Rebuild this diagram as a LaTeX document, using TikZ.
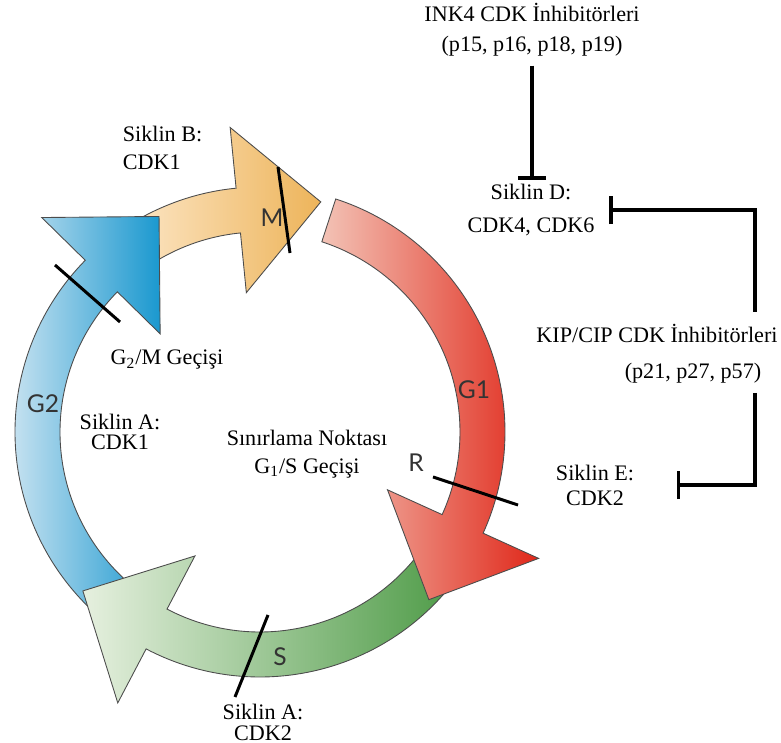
\documentclass[tikz,border=0pt]{standalone}
\usepackage{fontspec}
\setmainfont{Liberation Serif}
\newfontfamily\phasefont{Lato}
\usetikzlibrary{arrows.meta}

\definecolor{orangeL}{HTML}{FDE8CA}
\definecolor{orangeD}{HTML}{EDB45A}
\definecolor{blueL}{HTML}{C9E3F1}
\definecolor{blueD}{HTML}{1A98CF}
\definecolor{greenL}{HTML}{E6F0DF}
\definecolor{greenD}{HTML}{4C9A45}
\definecolor{redL}{HTML}{F3C3B6}
\definecolor{redD}{HTML}{E0281A}

% phase arrow: #1 style, #2 start angle, #3 end angle (clockwise)
\newcommand{\phasearrow}[3]{%
  \draw[#1] (#2:245) arc[start angle=#2, end angle=#3, radius=245]
    -- (#3:306) -- ({#3-20.4}:238) -- (#3:140) -- (#3:200)
    arc[start angle=#3, end angle=#2, radius=200] -- cycle;}

\begin{document}
\begin{tikzpicture}[x=0.02cm, y=0.02cm,
    lbl/.style={font=\fontsize{12.6}{#1}\selectfont, align=center, inner sep=2pt},
    lbl/.default=16pt,
    phase/.style={font=\phasefont\fontsize{14}{16}\selectfont, text=black!80},
    cut/.style={line width=1.7pt},
    inhib/.style={line width=2.2pt, -{Bar[width=16pt]}},
    ring/.style={draw=black!70, line width=0.5pt}]
  \useasboundingbox (0,0) rectangle (781,743);

  % cell cycle ring
  \begin{scope}[shift={(260,311)}]
    \phasearrow{ring, left color=orangeL, right color=orangeD}{125}{95.6}
    \phasearrow{ring, left color=blueL, right color=blueD}{236}{135.5}
    \phasearrow{ring, left color=greenL, right color=greenD}{-35}{-117.7}
    \phasearrow{ring, left color=redL, right color=redD}{72}{-24.4}
  \end{scope}

  % checkpoints
  \draw[cut] (278,576) -- (290,490);
  \draw[cut] (55,478) -- (120,421);
  \draw[cut] (433,266) -- (518,238);
  \draw[cut] (268,128) -- (235,46);

  \node[phase] (m) at (272,525) {M};
  \node[phase] (g1) at (474,353) {G1};
  \node[phase] (g2) at (43,339) {G2};
  \node[phase] (s) at (280,86) {S};
  \node[phase] (r) at (416,280) {R};

  \node[lbl=15.9pt, align=left, anchor=west] (sikB) at (119,595) {Siklin B:\\CDK1};
  \node[lbl] (g2m) at (167,383) {G\textsubscript{2}/M Geçişi};
  \node[lbl=11.5pt] (sikA1) at (120,311) {Siklin A:\\CDK1};
  \node[lbl=15.9pt] (sinir) at (307,289) {Sınırlama Noktası\\G\textsubscript{1}/S Geçişi};
  \node[lbl=12pt] (sikA2) at (263,21) {Siklin A:\\CDK2};

  % inhibitors
  \node[lbl=17pt] (ink4) at (532,713) {INK4 CDK İnhibitörleri\\(p15, p16, p18, p19)};
  \node[lbl=19.3pt] (sikD) at (531,533) {Siklin D:\\CDK4, CDK6};
  \node[lbl] (kip) at (657,410) {KIP/CIP CDK İnhibitörleri};
  \node[lbl] (kipP) at (693,370) {(p21, p27, p57)};
  \node[lbl=14.2pt] (sikE) at (595,258) {Siklin E:\\CDK2};

  \coordinate (kipUp) at (755,431);
  \coordinate (kipDn) at (755,350);
  \draw[inhib, shorten <=3pt] (ink4.south) -- (ink4.south |- sikD.north);
  \draw[inhib, shorten >=6pt] (kipUp) |- (sikD.east);
  \draw[inhib, shorten >=22pt] (kipDn) |- (sikE.east);
\end{tikzpicture}
\end{document}
